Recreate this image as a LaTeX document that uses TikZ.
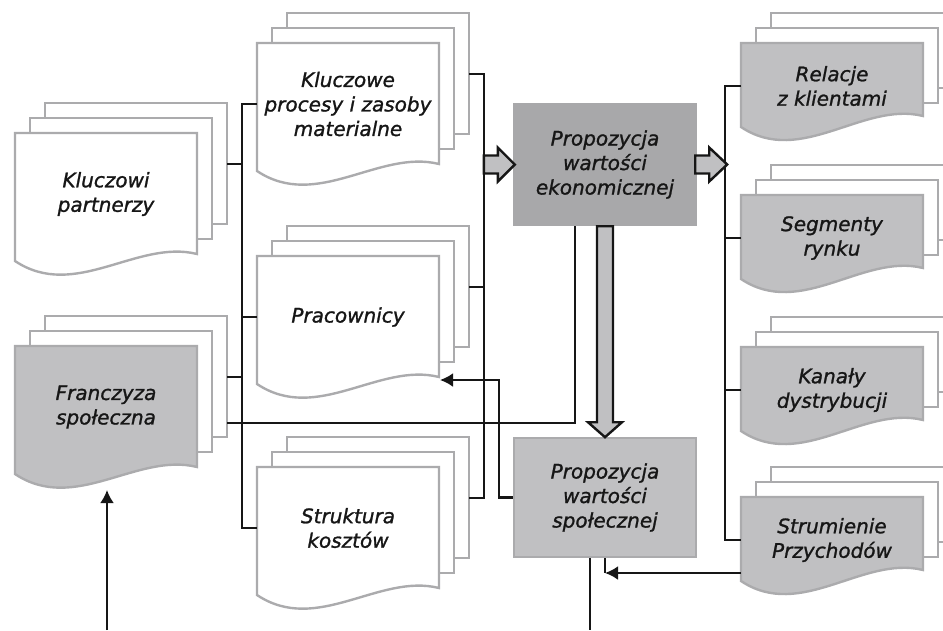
\documentclass[tikz,border=0pt]{standalone}
\usepackage{fontspec}
\setmainfont{DejaVu Sans}[ItalicFeatures={FakeBold=1.2}]
\usetikzlibrary{arrows.meta,calc}
\definecolor{docedge}{HTML}{ABABAD}
\definecolor{lightfill}{HTML}{C0C0C2}
\definecolor{darkfill}{HTML}{A8A8AA}
\definecolor{inkc}{HTML}{161616}
\tikzset{
  docline/.style={draw=docedge, line width=2.4pt, fill=white},
  doctext/.style={font=\fontsize{20}{24.5}\selectfont\itshape, text=inkc, align=center, inner sep=0pt},
  conn/.style={draw=inkc, line width=2.4pt},
  tipped/.style={conn, -{Latex[length=13pt,width=14pt]}},
  barrow/.style={draw=inkc, line width=2.4pt, fill=lightfill, line join=miter},
}
% #1 name, #2 x0, #3 top, #4 fill, #5 2nd-copy bottom offset, #6 right end offset,
% #7 left end offset, #8 centre offset, #9 text
\newcommand{\docgen}[9]{%
  \draw[docline] (#2+30,#3-30) rectangle (#2+212,#3+#5-15);
  \draw[docline] (#2+15,#3-15) rectangle (#2+197,#3+#5);
  \draw[docline, fill=#4] (#2,#3) -- (#2+182,#3) -- (#2+182,#3+#6)
     .. controls (#2+122,#3+#6-15) and (#2+60,#3+#7+40) .. (#2,#3+#7) -- cycle;
  \node[doctext] (#1) at (#2+91,#3+#8) {#9};
  \coordinate (#1-L) at (#2,#3+#8);
  \coordinate (#1-R) at (#2+212,#3+#8-30);
  \coordinate (#1-E) at (#2+182,#3+#6);
}
\newcommand{\talldoc}[5]{\docgen{#1}{#2}{#3}{#4}{106}{121}{128}{61}{#5}}
\newcommand{\shortdoc}[5]{\docgen{#1}{#2}{#3}{#4}{60}{73}{84}{43}{#5}}
\begin{document}
\begin{tikzpicture}[x=1pt,y=-1pt]
\useasboundingbox (0,0) rectangle (943,630);

% document stacks
\talldoc{KP}{15}{133}{white}{Kluczowi\\partnerzy}
\talldoc{FS}{15}{346}{lightfill}{Franczyza\\społeczna}
\talldoc{KPR}{257}{43}{white}{Kluczowe\\procesy i zasoby\\materialne}
\talldoc{PR}{257}{256}{white}{Pracownicy}
\talldoc{SK}{257}{467}{white}{Struktura\\kosztów}
\shortdoc{RK}{741}{43}{lightfill}{Relacje\\z klientami}
\shortdoc{SR}{741}{195}{lightfill}{Segmenty\\rynku}
\shortdoc{KD}{741}{347}{lightfill}{Kanały\\dystrybucji}
\shortdoc{SP}{741}{497}{lightfill}{Strumienie\\Przychodów}

% central boxes
\node[doctext, fill=darkfill, minimum width=184pt, minimum height=123pt] (PWE) at (605,164.5) {Propozycja\\wartości\\ekonomicznej};
\node[doctext, draw=docedge, line width=2.4pt, fill=lightfill, minimum width=182pt, minimum height=119pt] (PWS) at (605,497.5) {Propozycja\\wartości\\społecznej};

% bus positions
\coordinate (LB) at (242,0);
\coordinate (RB) at (484,0);
\coordinate (CB) at (725,0);

% left bus
\draw[conn] (KPR-L) -| (SK-L -| LB) -- (SK-L);
\draw[conn] (KP-R) -- (KP-R -| LB);
\draw[conn] (PR-L) -- (PR-L -| LB);
\draw[conn] (FS-R) -- (FS-R -| LB);
\coordinate (FS-R2) at ($(FS-R)+(0,46)$);
\draw[conn] (FS-R2) -| ($(PWE.south west)+(62,0)$);

% right bus of middle column
\draw[conn] (KPR-R) -| (SK-R -| RB) -- (SK-R);
\draw[conn] (PR-R) -- (PR-R -| RB);

% right bus
\draw[conn] (RK-L) -| (SP-L -| CB) -- (SP-L);
\draw[conn] (SR-L) -- (SR-L -| CB);
\draw[conn] (KD-L) -- (KD-L -| CB);

% PWS -> Pracownicy
\draw[tipped] (PWS.west) -- ++(-14,0) |- ($(PR-E)+(1,3)$);

% Strumienie -> PWS
\coordinate (SP-L2) at ($(SP-L)+(0,33)$);
\draw[conn] (PWS.south) -- (PWS.south |- SP-L2);
\draw[tipped] (SP-L2) -- (SP-L2 -| PWS.south);

% free ends at the bottom
\coordinate (out2) at (590,630);
\draw[conn] (PWS.south -| out2) -- (out2);
\coordinate (in1) at (107,630);
\coordinate (FS-B) at (107,490);
\draw[tipped] (in1) -- (FS-B);

% block arrows
\draw[barrow] ($(PWE.west)+(-29,-9)$) -- ++(14,0) -- ++(0,-8) -- ++(17,17) -- ++(-17,17) -- ++(0,-8) -- ++(-14,0) -- cycle;
\draw[barrow] ($(PWE.east)+(-2,-9)$) -- ++(14,0) -- ++(0,-8) -- ++(18,17) -- ++(-18,17) -- ++(0,-8) -- ++(-14,0) -- cycle;
\draw[barrow] ($(PWE.south)+(-8,0)$) -- ++(0,196) -- ++(-9,0) -- ++(17,15) -- ++(17,-15) -- ++(-9,0) -- ++(0,-196) -- cycle;
\end{tikzpicture}
\end{document}
